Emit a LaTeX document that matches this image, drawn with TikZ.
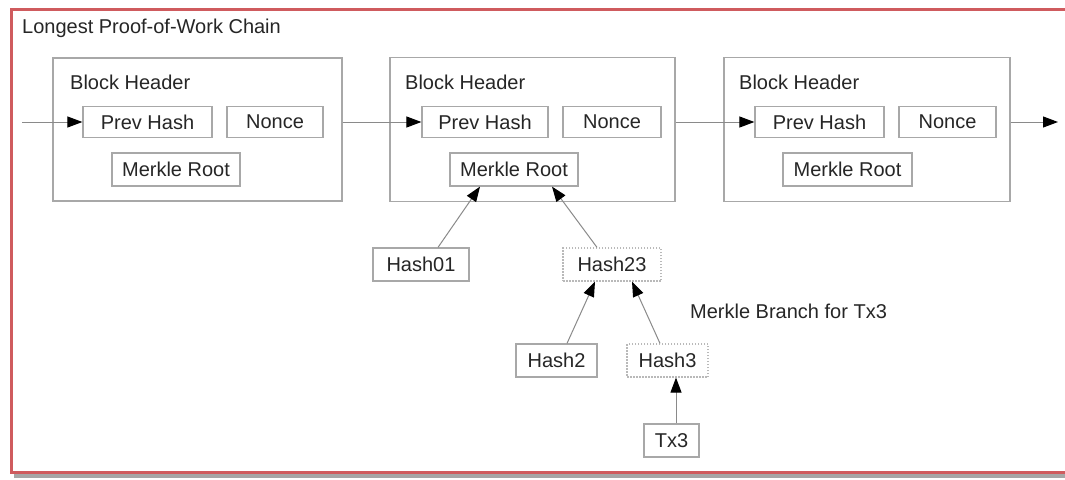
\documentclass[tikz,border=0pt]{standalone}
\usepackage{fontspec}
\setmainfont{Liberation Sans}
\usetikzlibrary{arrows.meta}
\definecolor{framered}{HTML}{CF5B5E}
\definecolor{boxgray}{HTML}{A8A8A8}
\definecolor{linegray}{HTML}{8A8A8A}
\definecolor{txtgray}{HTML}{262626}
\tikzset{
  blockbox/.style={draw=boxgray, line width=1.4pt, inner sep=0pt},
  fieldbox/.style={draw=boxgray, line width=1.2pt, inner sep=0pt, text=txtgray,
    font=\fontsize{20}{24}\selectfont},
  dotbox/.style={fieldbox, draw=boxgray!80, dash pattern=on 1.5pt off 1.5pt},
  lbl/.style={inner sep=0pt, text=txtgray, font=\fontsize{20}{24}\selectfont, anchor=west},
  arr/.style={draw=linegray, line width=1pt, -{Triangle[length=15pt,width=11pt,fill=black,color=black]}}
}
\begin{document}
\begin{tikzpicture}[x=1pt,y=-1pt]
\useasboundingbox (0,0) rectangle (1065,479);
\fill[white] (0,0) rectangle (1065,479);
% shadow and frame
\fill[gray!70] (14,472) rectangle (1070,478);
\draw[framered, line width=3pt] (11,9) rectangle (1072,472);
\node[lbl] (title) at (22,28) {Longest Proof-of-Work Chain};

% blocks
\node[blockbox, minimum width=289pt, minimum height=143pt] (b1) at (197.5,129.5) {};
\node[blockbox, minimum width=285pt, minimum height=144pt] (b2) at (532.5,129.5) {};
\node[blockbox, minimum width=286pt, minimum height=144pt] (b3) at (867,129.5) {};
\node[lbl] (bh1) at (70,82) {Block Header};
\node[lbl] (bh2) at (405,82) {Block Header};
\node[lbl] (bh3) at (739,82) {Block Header};

\node[fieldbox, minimum width=129pt, minimum height=31pt] (p1) at (147.5,122) {Prev Hash};
\node[fieldbox, minimum width=96pt, minimum height=31pt] (n1) at (275,122) {Nonce};
\node[fieldbox, minimum width=128pt, minimum height=33pt] (m1) at (176,169.5) {Merkle Root};

\node[fieldbox, minimum width=126pt, minimum height=31pt] (p2) at (485,122) {Prev Hash};
\node[fieldbox, minimum width=98pt, minimum height=31pt] (n2) at (612,122) {Nonce};
\node[fieldbox, minimum width=128pt, minimum height=33pt] (m2) at (514,169.5) {Merkle Root};

\node[fieldbox, minimum width=129pt, minimum height=31pt] (p3) at (819.5,122) {Prev Hash};
\node[fieldbox, minimum width=97pt, minimum height=31pt] (n3) at (947.5,122) {Nonce};
\node[fieldbox, minimum width=129pt, minimum height=33pt] (m3) at (847.5,169.5) {Merkle Root};

% merkle tree
\node[fieldbox, minimum width=96pt, minimum height=33pt] (h01) at (421,264.5) {Hash01};
\node[dotbox, minimum width=98pt, minimum height=33pt] (h23) at (612,264.5) {Hash23};
\node[fieldbox, minimum width=81pt, minimum height=33pt] (h2) at (556.5,360.5) {Hash2};
\node[dotbox, minimum width=81pt, minimum height=33pt] (h3) at (667.5,360.5) {Hash3};
\node[fieldbox, minimum width=55pt, minimum height=33pt] (tx3) at (671.5,440.5) {Tx3};
\node[lbl] (branch) at (690,311) {Merkle Branch for Tx3};

% chain arrows
\coordinate (cin) at (22,122);
\coordinate (cout) at (1058,122);
\draw[arr] (cin) -- (p1.west);
\draw[arr] (b1.east |- p1.west) -- (p2.west);
\draw[arr] (b2.east |- p2.west) -- (p3.west);
\draw[arr] (b3.east |- p3.east) -- (cout);

% tree arrows
\draw[arr] ([xshift=17pt]h01.north) -- ([xshift=-34pt]m2.south);
\draw[arr] ([xshift=-15pt]h23.north) -- ([xshift=38pt]m2.south);
\draw[arr] ([xshift=10.5pt]h2.north) -- ([xshift=-17pt]h23.south);
\draw[arr] ([xshift=-7.5pt]h3.north) -- ([xshift=20pt]h23.south);
\draw[arr] ([xshift=4.5pt]tx3.north) -- ([xshift=4.5pt]tx3.north |- h3.south);
\end{tikzpicture}
\end{document}
